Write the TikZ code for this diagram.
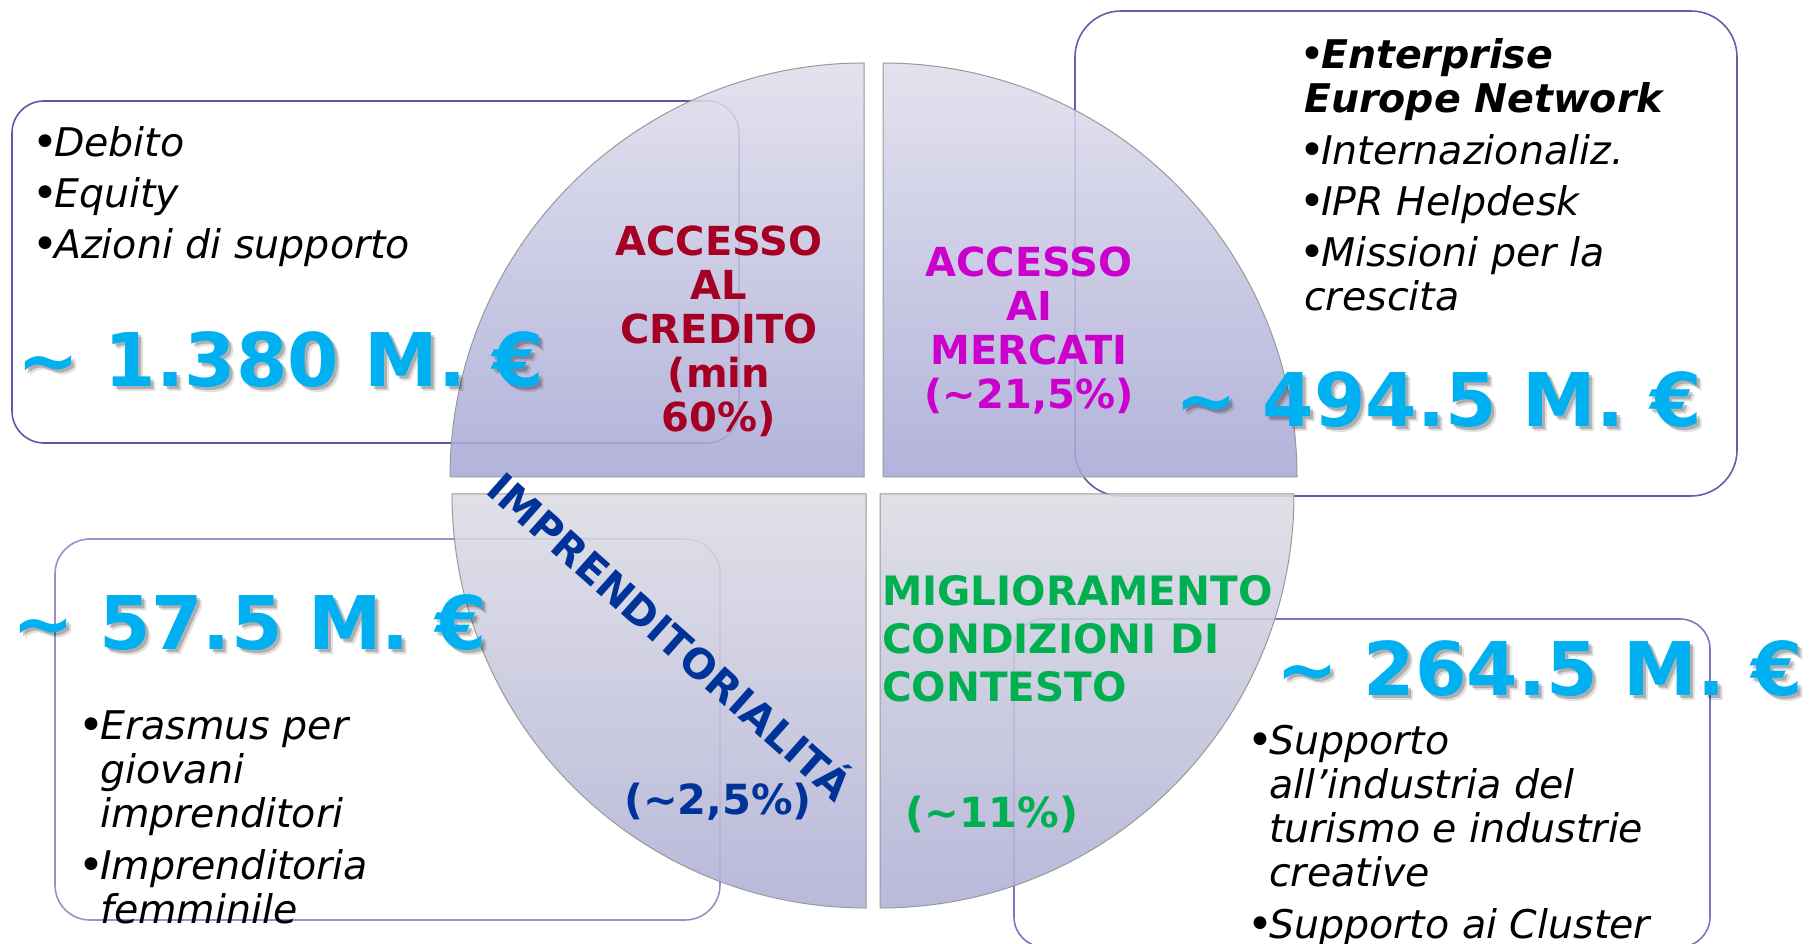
\documentclass[tikz,border=0pt]{standalone}
\usepackage{fontspec}
\setmainfont{DejaVu Sans}
\usetikzlibrary{positioning}
\definecolor{numcyan}{RGB}{0,176,240}
\definecolor{credred}{RGB}{165,0,35}
\definecolor{mktmag}{RGB}{204,0,204}
\definecolor{ctxgreen}{RGB}{0,176,80}
\definecolor{impblue}{RGB}{0,51,153}
\definecolor{qtop}{RGB}{223,223,236}
\definecolor{qbot}{RGB}{168,168,214}
\definecolor{ltop}{RGB}{220,220,228}
\definecolor{lbot}{RGB}{175,175,214}
\newcommand{\bul}{\makebox[22pt][l]{\fontsize{44}{44}\selectfont\raisebox{-1pt}{•}}}
\tikzset{
    quarter/.style={draw=gray!80, line width=1pt, fill opacity=0.88},
    upper/.style={quarter, top color=qtop, bottom color=qbot},
    lower/.style={quarter, top color=ltop, bottom color=lbot},
    infobox/.style={rounded corners=#1, line width=1.6pt},
    bignum/.style={anchor=west, inner sep=0pt, text=numcyan,
        font=\bfseries\fontsize{74}{80}\selectfont},
    numshadow/.style={bignum, text=black, opacity=0.22},
    title/.style={inner sep=0pt, align=center,
        font=\bfseries\fontsize{40}{44}\selectfont},
    itemlist/.style={anchor=north west, inner sep=0pt, align=left,
        font=\itshape\fontsize{39.5}{44}\selectfont},
}

\begin{document}
\begin{tikzpicture}[x=1pt, y=1pt]
	\useasboundingbox (0,0) rectangle (1810,943);
	% boxes behind the circle
	\draw[infobox=32, draw={rgb,255:red,90;green,90;blue,165}] (12,500) rectangle (739,842);
	\draw[infobox=46, draw={rgb,255:red,95;green,95;blue,170}] (1075,447) rectangle (1737,932);
	\draw[infobox=35, draw={rgb,255:red,150;green,145;blue,200}] (55,23) rectangle (720,404);
	\draw[infobox=30, draw={rgb,255:red,120;green,120;blue,190}] (1014,-4) rectangle (1710,324);
	% the four quarters
	\draw[upper] (864,466) -- ++(-414,0) arc[start angle=180, end angle=90, radius=414] -- cycle;
	\draw[upper] (883,466) -- ++(0,414) arc[start angle=90, end angle=0, radius=414] -- cycle;
	\draw[lower] (866,449) -- ++(-414,0) arc[start angle=180, end angle=270, radius=414] -- cycle;
	\draw[lower] (880,449) -- ++(0,-414) arc[start angle=270, end angle=360, radius=414] -- cycle;
	% titles
	\node[title, text=credred] (credito) at (719,612) {ACCESSO\\AL\\CREDITO\\(min\\60\%)};
	\node[title, text=mktmag] (mercati) at (1029,612) {ACCESSO\\AI\\MERCATI\\(\textasciitilde21,5\%)};
	\node[title, text=ctxgreen, anchor=west, align=left,
		font=\bfseries\fontsize{40.5}{48}\selectfont] (contesto) at (882,304)
		{MIGLIORAMENTO\\CONDIZIONI DI\\CONTESTO};
	\node[title, text=ctxgreen, font=\bfseries\fontsize{41.5}{44}\selectfont] (contestopc) at (992,129) {(\textasciitilde11\%)};
	\node[title, text=impblue, font=\bfseries\fontsize{41.5}{44}\selectfont] (imprpc) at (718,141) {(\textasciitilde2,5\%)};
	\node[title, text=impblue, rotate=-41.6, font=\bfseries\fontsize{41}{44}\selectfont]
		(impr) at (672,309) {IMPRENDITORIALITÁ};
	% amounts
	\node[numshadow] (credsh) at (20,580) {\textasciitilde{} 1.380 M. €};
	\node[numshadow, opacity=0.12] (credsh2) at (22,578) {\textasciitilde{} 1.380 M. €};
	\node[bignum] (credamt) at (17,583) {\textasciitilde{} 1.380 M. €};
	\node[numshadow] (mktsh) at (1178,540) {\textasciitilde{} 494.5 M. €};
	\node[numshadow, opacity=0.12] (mktsh2) at (1180,538) {\textasciitilde{} 494.5 M. €};
	\node[bignum] (mktamt) at (1175,543) {\textasciitilde{} 494.5 M. €};
	\node[numshadow] (imprsh) at (15,317) {\textasciitilde{} 57.5 M. €};
	\node[numshadow, opacity=0.12] (imprsh2) at (17,315) {\textasciitilde{} 57.5 M. €};
	\node[bignum] (impramt) at (12,320) {\textasciitilde{} 57.5 M. €};
	\node[numshadow] (ctxsh) at (1279,271) {\textasciitilde{} 264.5 M. €};
	\node[numshadow, opacity=0.12] (ctxsh2) at (1281,269) {\textasciitilde{} 264.5 M. €};
	\node[bignum] (ctxamt) at (1276,274) {\textasciitilde{} 264.5 M. €};
	% lists
	\node[itemlist] (credlist) at (32,817)
		{\bul Debito\\[7pt]\bul Equity\\[7pt]\bul Azioni di supporto};
	\node[itemlist] (mktlist) at (1299,905)
		{\bul\bfseries Enterprise\\\hspace{5pt}\bfseries Europe Network\\[8pt]
		 \bul Internazionaliz.\\[7pt]\bul IPR Helpdesk\\[7pt]\bul Missioni per la\\\hspace{5pt}crescita};
	\node[itemlist] (imprlist) at (78,232)
		{\bul Erasmus per\\\hspace{22pt}giovani\\\hspace{22pt}imprenditori\\[8pt]
		 \bul Imprenditoria\\\hspace{22pt}femminile};
	\node[itemlist] (ctxlist) at (1247,218)
		{\bul Supporto\\\hspace{22pt}all’industria del\\\hspace{22pt}turismo e industrie\\
		 \hspace{22pt}creative\\[8pt]\bul Supporto ai Cluster};
\end{tikzpicture}
\end{document}
